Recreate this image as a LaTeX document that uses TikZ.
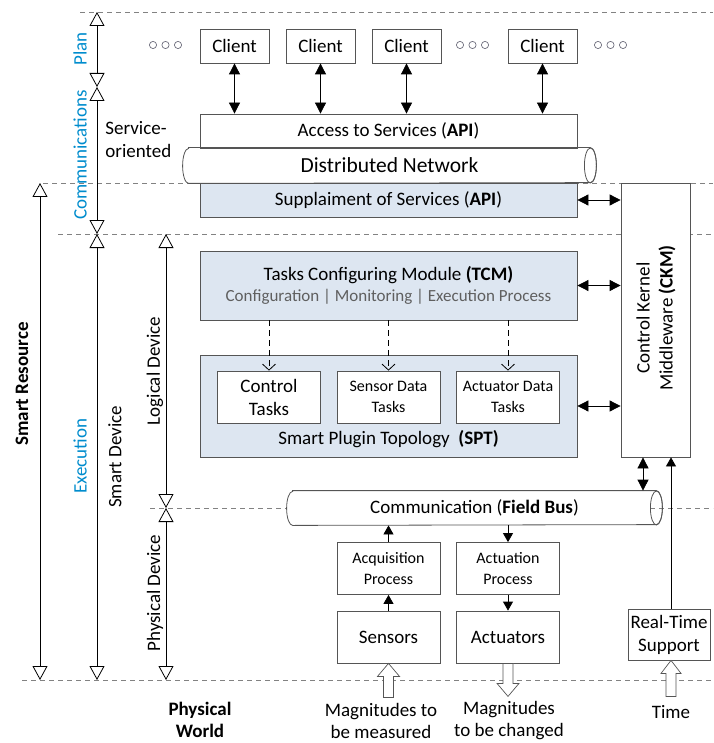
\documentclass[tikz,border=0pt]{standalone}
\usepackage{fontspec}
\setmainfont{Carlito}
\usetikzlibrary{arrows.meta}
\definecolor{lvblue}{RGB}{0,140,205}
\definecolor{boxblue}{RGB}{221,230,241}
\definecolor{edgegray}{RGB}{85,85,85}
\definecolor{dashgray}{RGB}{130,130,130}
\definecolor{subgray}{RGB}{95,95,95}
\definecolor{dotgray}{RGB}{110,110,125}

\begin{document}
\begin{tikzpicture}[x=1pt, y=-1pt, line width=0.8pt,
    every node/.style={font=\fontsize{19}{23}\selectfont, inner sep=1pt},
    box/.style={draw=edgegray, fill=white, align=center},
    bluebox/.style={box, fill=boxblue},
    small/.style={font=\fontsize{16}{20.5}\selectfont},
    guide/.style={dashgray, dash pattern=on 5pt off 4pt, line width=0.7pt},
    lev/.style={{Triangle[open,length=14pt,width=15pt]}-{Triangle[open,length=14pt,width=15pt]}},
    dbl/.style={{Triangle[length=11pt,width=11pt]}-{Triangle[length=11pt,width=11pt]}},
    sgl/.style={-{Triangle[length=9pt,width=10pt]}},
    cfg/.style={dash pattern=on 6pt off 4pt, -{Straight Barb[length=6pt,width=13pt]}}]
\useasboundingbox (0,0) rectangle (713,743);

% layer guides
\draw[guide] (80,12) -- (713,12);
\draw[guide] (43,183) -- (713,183);
\draw[guide] (58,234) -- (713,234);
\draw[guide] (150,508) -- (287,508);
\draw[guide] (650,508) -- (713,508);
\draw[guide] (22,680) -- (713,680);

% level axes
\coordinate (a0) at (97,12);
\coordinate (a1) at (97,87);
\coordinate (a2) at (97,234);
\coordinate (a3) at (97,680);
\coordinate (r0) at (40,183);
\coordinate (r1) at (40,680);
\coordinate (d0) at (166,234);
\coordinate (d1) at (166,508);
\coordinate (d2) at (166,680);
\foreach \from/\to in {a0/a1, a1/a2, a2/a3, r0/r1, d0/d1, d1/d2}
    \draw[lev] (\from) -- (\to);

\node[rotate=90, text=lvblue] (plan) at (80,49) {Plan};
\node[rotate=90, text=lvblue] (comm) at (80,155) {Communications};
\node[rotate=90, text=lvblue] (exec) at (80,456) {Execution};
\node[rotate=90, font=\fontsize{19}{23}\selectfont\bfseries] (sres) at (22,384) {Smart Resource};
\node[rotate=90] (sdev) at (115,457) {Smart Device};
\node[rotate=90] (ldev) at (155,371) {Logical Device};
\node[rotate=90] (pdev) at (155,593) {Physical Device};
\node[align=left, anchor=west] (soa) at (104,140) {Service-\\oriented};

% clients
\node[box, minimum width=69pt, minimum height=34pt] (c1) at (234.5,46) {Client};
\node[box, minimum width=69pt, minimum height=34pt] (c2) at (320.5,46) {Client};
\node[box, minimum width=69pt, minimum height=34pt] (c3) at (406.5,46) {Client};
\node[box, minimum width=69pt, minimum height=34pt] (c4) at (542.5,46) {Client};
\foreach \x in {153,165.5,178,460,472.5,485,598,610.5,623}
    \draw[dotgray, line width=0.7pt] (\x,45) circle (3.6);

% services and network
\node[box, minimum width=377pt, minimum height=34pt] (acc) at (388.5,131) {Access to Services (\textbf{API})};
\node[minimum width=413pt, minimum height=35pt, font=\fontsize{21.5}{25}\selectfont] (net) at (389.5,165.5) {Distributed Network};
\draw[edgegray] ([xshift=6pt]net.north west) -- ([xshift=-6pt]net.north east)
    arc[start angle=270, end angle=450, x radius=6, y radius=17.5]
    -- ([xshift=6pt]net.south west)
    arc[start angle=90, end angle=270, x radius=6, y radius=17.5] -- cycle;
\draw[edgegray] ([xshift=-6pt]net.east) ellipse [x radius=6, y radius=17.5];
\node[bluebox, minimum width=377pt, minimum height=34pt] (sup) at (388.5,200) {Supplaiment of Services (\textbf{API})};

\node[box, minimum width=69pt, minimum height=274pt] (ckm) at (655.5,320) {};
\node[rotate=90, align=center] (ckmt) at (656,318) {Control Kernel\\Middleware \textbf{(CKM)}};

% logical device
\node[bluebox, minimum width=377pt, minimum height=69pt] (tcm) at (388.5,285.5) {};
\node (tcmt) at (388.5,275) {Tasks Configuring Module \textbf{(TCM)}};
\node[font=\fontsize{17}{20}\selectfont, text=subgray] (tcms) at (388.5,297) {Configuration | Monitoring | Execution Process};
\node[bluebox, minimum width=377pt, minimum height=102pt] (spt) at (388.5,406) {};
\node (sptt) at (388.5,439) {Smart Plugin Topology~~\textbf{(SPT)}};
\node[box, minimum width=103pt, minimum height=52pt] (ctl) at (269,397) {Control\\Tasks};
\node[box, small, minimum width=103pt, minimum height=52pt] (sdt) at (388.5,397) {Sensor Data\\Tasks};
\node[box, small, minimum width=103pt, minimum height=52pt] (adt) at (508,397) {Actuator Data\\Tasks};

% physical device
\node[minimum width=375pt, minimum height=34pt] (bus) at (474.5,508) {Communication (\textbf{Field Bus})};
\draw[edgegray] ([xshift=6pt]bus.north west) -- ([xshift=-6pt]bus.north east)
    arc[start angle=270, end angle=450, x radius=6, y radius=17]
    -- ([xshift=6pt]bus.south west)
    arc[start angle=90, end angle=270, x radius=6, y radius=17] -- cycle;
\draw[edgegray] ([xshift=-6pt]bus.east) ellipse [x radius=6, y radius=17];
\node[box, small, minimum width=103pt, minimum height=52pt] (acq) at (388.5,568.5) {Acquisition\\Process};
\node[box, minimum width=103pt, minimum height=52pt] (sens) at (388.5,637) {Sensors};
\node[box, small, minimum width=103pt, minimum height=52pt] (acp) at (508,568.5) {Actuation\\Process};
\node[box, minimum width=103pt, minimum height=52pt] (act) at (508,637) {Actuators};
\node[box, minimum width=82pt, minimum height=51pt] (rts) at (669,634.5) {Real-Time\\Support};

% bottom texts
\node[align=center, font=\fontsize{19}{22}\selectfont\bfseries] (pw) at (200,720) {Physical\\World};
\node[align=center, font=\fontsize{19}{22}\selectfont] (mm) at (381,721) {Magnitudes to\\be measured};
\node[align=center, font=\fontsize{19}{22}\selectfont] (mc) at (509,721) {Magnitudes\\to be changed};
\node (time) at (671,712) {Time};

% connectors
\foreach \c in {c1,c2,c3,c4}
    \draw[dbl] (\c.south) -- (\c.south |- acc.north);
\foreach \b in {sup,tcm,spt}
    \draw[dbl] (\b.east) -- (\b.east -| ckm.west);
\draw[dbl] ([xshift=-12.5pt]ckm.south) -- ([xshift=-12.5pt]ckm.south |- bus.north);
\draw[sgl] ([xshift=2pt]rts.north) -- ([xshift=2pt]rts.north |- ckm.south);
\foreach \t in {ctl,sdt,adt}
    \draw[cfg] (\t.north |- tcm.south) -- (\t.north);
\draw[sgl] (acq.north) -- (acq.north |- bus.south);
\draw[sgl] (sens.north) -- (acq.south);
\draw[sgl] (acp.north |- bus.south) -- (acp.north);
\draw[sgl] (acp.south) -- (act.north);

% hollow arrows
\draw[edgegray, fill=white, line width=0.7pt] (sens.south) -- ++(11,13) -- ++(-6,0) -- ++(0,21) -- ++(-10,0) -- ++(0,-21) -- ++(-6,0) -- cycle;
\draw[edgegray, fill=white, line width=0.7pt] ([xshift=2pt]rts.south) -- ++(10,13) -- ++(-5,0) -- ++(0,23) -- ++(-10,0) -- ++(0,-23) -- ++(-5,0) -- cycle;
\draw[edgegray, fill=white, line width=0.7pt] (act.south) ++(-5,0) -- ++(0,20) -- ++(-6,0) -- ++(11,13) -- ++(11,-13) -- ++(-6,0) -- ++(0,-20) -- cycle;
\end{tikzpicture}
\end{document}
